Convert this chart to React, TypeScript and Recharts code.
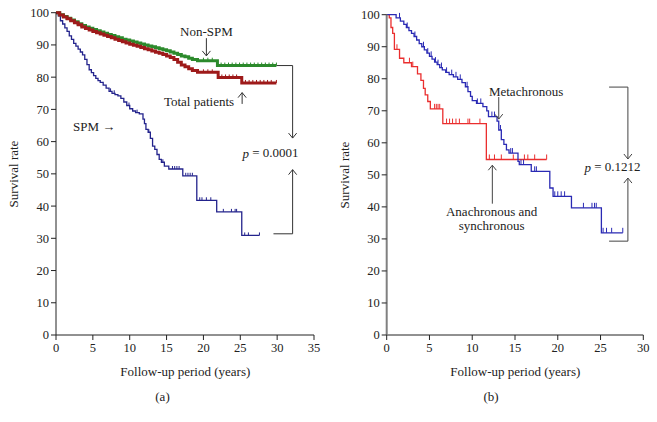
import { LineChart, Line, XAxis, YAxis, ReferenceLine, ReferenceDot } from "recharts"

const FONT = "'Liberation Serif', 'Times New Roman', serif"
const INK = "#222"

// shared axis ticks
const yTicks = [0, 10, 20, 30, 40, 50, 60, 70, 80, 90, 100]
const aTicksX = [0, 5, 10, 15, 20, 25, 30, 35]
const bTicksX = [0, 5, 10, 15, 20, 25, 30]

// (a) Non-SPM
const nonSpmTime = [0, 0.5, 1, 1.5, 2, 2.5, 3, 3.5, 4, 4.5, 5, 5.5, 6, 6.5, 7, 7.5, 8, 8.5, 9, 9.5, 10, 10.5, 11, 11.5, 12, 12.5, 13, 13.5, 14, 14.5, 15, 15.5, 16, 16.5, 17, 17.5, 18, 18.5, 19.2, 21.9]
const nonSpmSurv = [100, 99.4, 98.8, 98.3, 97.7, 97.2, 96.6, 96.0, 95.6, 95.2, 94.8, 94.4, 94.0, 93.6, 93.2, 92.9, 92.5, 92.2, 91.8, 91.5, 91.2, 90.9, 90.6, 90.3, 90.0, 89.7, 89.4, 89.1, 88.8, 88.5, 88.2, 87.8, 87.4, 87.0, 86.6, 86.3, 85.9, 85.5, 85.1, 83.6]
const nonSpmCensor = [20.0, 20.6, 21.2, 22.4, 22.9, 23.4, 23.9, 24.4, 24.9, 25.4, 25.9, 26.4, 26.9, 27.4, 27.9, 28.4, 28.9, 29.4, 29.9]

// (a) Total patients
const totalTime = [0, 0.5, 1, 1.5, 2, 2.5, 3, 3.5, 4, 4.5, 5, 5.5, 6, 6.5, 7, 7.5, 8, 8.5, 9, 9.5, 10, 10.5, 11, 11.5, 12, 12.5, 13, 13.5, 14, 14.5, 15, 15.5, 16, 16.5, 17, 17.5, 18, 18.5, 19.2, 22.0, 25.2]
const totalSurv = [100, 99.3, 98.7, 98.1, 97.5, 96.9, 96.3, 95.6, 95.1, 94.6, 94.2, 93.8, 93.4, 93.0, 92.6, 92.2, 91.8, 91.4, 91.0, 90.6, 90.2, 89.9, 89.6, 89.2, 88.8, 88.5, 88.1, 87.7, 87.4, 87.0, 86.6, 86.1, 85.5, 84.6, 83.8, 83.2, 82.6, 82.1, 81.5, 79.9, 78.2]
const totalCensor = [20.0, 20.6, 21.2, 22.5, 23.0, 23.5, 24.0, 24.5, 25.7, 26.2, 26.7, 27.2, 27.7, 28.2, 28.7, 29.2, 29.9]

// (a) SPM
const spmTime = [0, 0.3, 0.6, 0.9, 1.2, 1.5, 1.8, 2.1, 2.4, 2.7, 3.0, 3.3, 3.6, 3.9, 4.2, 4.5, 4.8, 5.1, 5.4, 5.7, 6.0, 6.4, 6.8, 7.2, 7.6, 8.0, 8.4, 8.8, 9.2, 9.6, 10.0, 10.4, 10.8, 11.3, 11.8, 12.0, 12.2, 12.5, 12.8, 13.1, 13.4, 13.7, 14.0, 14.3, 14.7, 15.3, 17.2, 19.1, 21.8, 25.2]
const spmSurv = [100, 99, 97.5, 96.5, 95.3, 94.2, 92.8, 91.7, 90.5, 89.6, 88.7, 87.8, 86.9, 85.5, 83.9, 82.3, 81.4, 80.5, 79.6, 78.9, 78.4, 77.5, 76.6, 75.6, 75.0, 74.6, 74.2, 73.4, 72.3, 71.2, 70.2, 69.5, 69.0, 68.6, 67.0, 65.6, 63.8, 62.9, 61.0, 58.6, 57.6, 56.0, 54.5, 53.6, 52.4, 51.5, 49.4, 41.8, 38.2, 30.9]
const spmCensor = [7.4, 7.9, 9.9, 11.0, 12.6, 14.5, 15.8, 16.1, 16.4, 16.7, 17.6, 17.9, 18.2, 18.5, 19.5, 19.8, 20.4, 21.0, 22.7, 23.8, 24.3, 24.5, 25.6, 26.1, 27.6]

// (b) Metachronous
const metaTime = [0, 1.1, 1.6, 2.0, 2.3, 2.6, 2.9, 3.2, 3.5, 3.8, 4.1, 4.4, 4.7, 5.0, 5.3, 5.6, 5.9, 6.2, 6.5, 6.9, 7.3, 7.8, 8.3, 8.8, 9.2, 9.5, 9.8, 10.0, 10.5, 11.25, 11.7, 11.9, 12.9, 13.1, 13.4, 13.7, 14.0, 14.3, 15.35, 15.5, 16.9, 19.07, 19.45, 21.6, 25.1]
const metaSurv = [100, 99, 98, 97, 96, 95, 94.2, 93.2, 92.1, 91, 90, 89, 88, 87, 86.1, 85.2, 84.4, 83.5, 82.8, 82.0, 81.3, 80.6, 79.8, 78.8, 77.5, 76.0, 74.5, 73.2, 72.3, 71.3, 70.0, 68.2, 66.8, 64.0, 61.0, 59.5, 57.8, 56.8, 54.2, 53.2, 51.1, 45.9, 43.3, 39.7, 31.9]
const metaCensor = [1.5, 2.4, 3.3, 4.3, 4.8, 5.2, 5.7, 6.0, 6.4, 7.0, 7.6, 8.1, 8.6, 9.4, 10.6, 11.0, 12.3, 12.6, 13.3, 14.5, 14.7, 15.7, 16.0, 17.3, 17.5, 19.65, 20.0, 20.4, 20.8, 23.0, 24.0, 24.3, 24.5, 25.3, 25.7, 26.3, 27.6]

// (b) Anachronous and synchronous
const synTime = [0, 0.3, 0.5, 0.7, 0.9, 1.5, 2.0, 2.9, 3.6, 4.0, 4.3, 4.5, 4.8, 5.1, 6.56, 11.65]
const synSurv = [100, 99, 96, 94.2, 89.2, 86.4, 85.0, 83.8, 81.5, 79.5, 77.0, 75.0, 72.9, 70.6, 66.0, 54.8]
const synCensor = [1.2, 2.66, 3.05, 5.6, 5.8, 6.0, 6.2, 7.0, 7.35, 7.7, 8.1, 8.5, 9.5, 9.7, 10.9, 12.0, 12.6, 13.4, 14.8, 16.1, 16.5, 17.3, 18.7]

type Pt = { t: number; s: number; c: boolean }

// merge event steps and censor marks into one step series
function kmPoints(times: number[], surv: number[], censor: number[]): Pt[] {
  const pts: Pt[] = times.map((t, i) => ({ t, s: surv[i], c: false }))
  censor.forEach((ct) => {
    let s = surv[0]
    times.forEach((t, i) => {
      if (t <= ct) s = surv[i]
    })
    pts.push({ t: ct, s, c: true })
  })
  return pts.sort((a, b) => a.t - b.t)
}

function censorDot(color: string, len: number) {
  return (props: any) => {
    const { cx, cy, payload, index } = props
    if (!payload || !payload.c || cx == null || cy == null) return <g key={`d${index}`} />
    return <line key={`d${index}`} x1={cx} x2={cx} y1={cy - len} y2={cy} stroke={color} strokeWidth={1} />
  }
}

function seg(key: string, x1: number, y1: number, x2: number, y2: number, color: string) {
  return (
    <ReferenceLine
      key={key}
      segment={[{ x: x1, y: y1 }, { x: x2, y: y2 }]}
      stroke={color}
      strokeWidth={1}
      ifOverflow="visible"
    />
  )
}

// vertical arrow, head at `to`
function arrow(key: string, x: number, from: number, to: number, dx: number, dy: number, color: string) {
  const dir = to < from ? 1 : -1
  return [
    seg(`${key}s`, x, from, x, to, color),
    seg(`${key}l`, x - dx, to + dir * dy, x, to, color),
    seg(`${key}r`, x + dx, to + dir * dy, x, to, color),
  ]
}

function note(key: string, x: number, y: number, text: string, pValue = false) {
  return (
    <ReferenceDot
      key={key}
      x={x}
      y={y}
      r={0}
      ifOverflow="visible"
      shape={(p: any) => (
        <text
          x={p.cx}
          y={p.cy}
          textAnchor="middle"
          dominantBaseline="central"
          fontFamily={FONT}
          fontSize={13}
          fill={INK}
        >
          {pValue ? (
            <>
              <tspan fontStyle="italic">p</tspan>
              {` = ${text}`}
            </>
          ) : (
            text
          )}
        </text>
      )}
    />
  )
}

const tickStyle = { fontSize: 12.5, fill: INK, fontFamily: FONT }

function PanelA() {
  const nonSpm = kmPoints(nonSpmTime, nonSpmSurv, nonSpmCensor)
  const total = kmPoints(totalTime, totalSurv, totalCensor)
  const spm = kmPoints(spmTime, spmSurv, spmCensor)
  const c = "#333"
  return (
    <LineChart width={330} height={422} margin={{ top: 12.7, right: 16, bottom: 57, left: 0 }}>
      <XAxis
        type="number"
        dataKey="t"
        domain={[0, 35]}
        ticks={aTicksX}
        interval={0}
        tick={tickStyle}
        tickSize={5}
        tickMargin={3}
        height={30}
        axisLine={{ stroke: INK }}
        tickLine={{ stroke: INK }}
      />
      <YAxis
        type="number"
        dataKey="s"
        domain={[0, 100]}
        ticks={yTicks}
        interval={0}
        tick={tickStyle}
        tickSize={5}
        tickMargin={2}
        width={56}
        axisLine={{ stroke: INK }}
        tickLine={{ stroke: INK }}
      />
      <Line data={spm} dataKey="s" type="stepAfter" stroke="#23238c" strokeWidth={1.3} dot={censorDot("#23238c", 3)} activeDot={false} isAnimationActive={false} />
      <Line data={nonSpm} dataKey="s" type="stepAfter" stroke="#2c8a2c" strokeWidth={3} dot={censorDot("#2c8a2c", 3)} activeDot={false} isAnimationActive={false} />
      <Line data={total} dataKey="s" type="stepAfter" stroke="#9e1a1a" strokeWidth={3} dot={censorDot("#9e1a1a", 3)} activeDot={false} isAnimationActive={false} />
      {note("ns", 20.4, 94.3, "Non-SPM")}
      {arrow("nsa", 20.4, 92.1, 86.6, 0.55, 1.55, c)}
      {note("tp", 19.4, 72.6, "Total patients")}
      {arrow("tpa", 25.25, 71.7, 75.2, 0.55, 1.55, c)}
      {note("spm", 5.17, 64.6, "SPM \u2192")}
      {seg("bh1", 29.9, 83.6, 32.1, 83.6, c)}
      {arrow("bv1", 32.1, 83.6, 61.1, 0.55, 1.55, c)}
      {seg("bh2", 29.5, 31.4, 32.1, 31.4, c)}
      {arrow("bv2", 32.1, 31.4, 51.3, 0.55, 1.55, c)}
      {note("p", 29.1, 56.5, "0.0001", true)}
    </LineChart>
  )
}

function PanelB() {
  const meta = kmPoints(metaTime, metaSurv, metaCensor)
  const syn = kmPoints(synTime, synSurv, synCensor)
  const c = "#444"
  return (
    <LineChart width={327} height={422} margin={{ top: 14.7, right: 13.7, bottom: 57, left: 0 }}>
      <XAxis
        type="number"
        dataKey="t"
        domain={[0, 30]}
        ticks={bTicksX}
        interval={0}
        tick={tickStyle}
        tickSize={5}
        tickMargin={3}
        height={30}
        axisLine={{ stroke: INK }}
        tickLine={{ stroke: INK }}
      />
      <YAxis
        type="number"
        dataKey="s"
        domain={[0, 100]}
        ticks={yTicks}
        interval={0}
        tick={tickStyle}
        tickSize={5}
        tickMargin={2}
        width={56.7}
        axisLine={{ stroke: "#808080", strokeWidth: 2 }}
        tickLine={{ stroke: INK }}
      />
      <Line data={syn} dataKey="s" type="stepAfter" stroke="#ea2e2e" strokeWidth={1.3} dot={censorDot("#ea2e2e", 5)} activeDot={false} isAnimationActive={false} />
      <Line data={meta} dataKey="s" type="stepAfter" stroke="#2a2ab4" strokeWidth={1.3} dot={censorDot("#2a2ab4", 5)} activeDot={false} isAnimationActive={false} />
      {note("mt", 16.3, 76, "Metachronous")}
      {arrow("mta", 13.1, 74.3, 67.4, 0.47, 1.56, c)}
      {note("an1", 12.27, 38.6, "Anachronous and")}
      {note("an2", 12.27, 34.3, "synchronous")}
      {arrow("ana", 12.35, 41, 53, 0.47, 1.56, c)}
      {seg("bh1", 26.0, 77.4, 28.2, 77.4, c)}
      {arrow("bv1", 28.2, 77.4, 54.95, 0.47, 1.56, c)}
      {seg("bh2", 26.0, 29.3, 28.2, 29.3, c)}
      {arrow("bv2", 28.2, 29.3, 49, 0.47, 1.56, c)}
      {note("p", 26.4, 52.6, "0.1212", true)}
    </LineChart>
  )
}

export default function App() {
  const titleProps = { fontFamily: FONT, fontSize: 13, fill: INK, textAnchor: "middle" as const, dominantBaseline: "central" as const }
  return (
    <div style={{ position: "absolute", left: 0, top: 0, width: 657, height: 422, background: "#fff", overflow: "hidden" }}>
      <div style={{ position: "absolute", left: 0, top: 0 }}>
        <PanelA />
      </div>
      <div style={{ position: "absolute", left: 330, top: 0 }}>
        <PanelB />
      </div>
      <svg width={657} height={422} style={{ position: "absolute", left: 0, top: 0, pointerEvents: "none" }}>
        <text {...titleProps} x={13.5} y={174} transform="rotate(-90 13.5 174)">Survival rate</text>
        <text {...titleProps} x={185.3} y={371}>Follow-up period (years)</text>
        <text {...titleProps} x={162.5} y={396}>(a)</text>
        <text {...titleProps} x={344.5} y={175} transform="rotate(-90 344.5 175)">Survival rate</text>
        <text {...titleProps} x={515.3} y={371}>Follow-up period (years)</text>
        <text {...titleProps} x={491} y={396}>(b)</text>
      </svg>
    </div>
  )
}
